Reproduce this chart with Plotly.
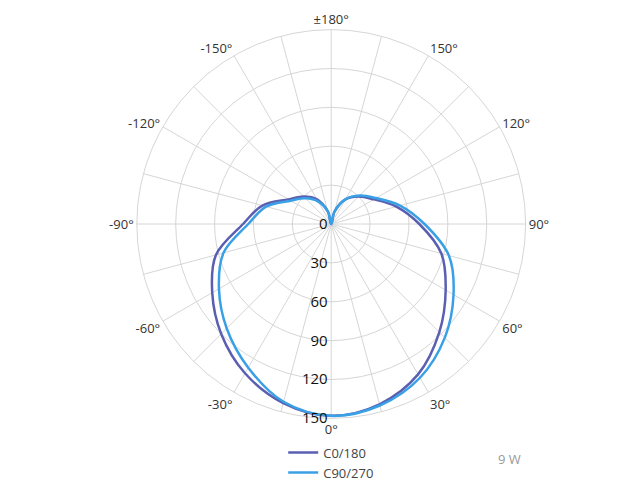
import plotly.graph_objects as go

angles = list(range(-180, 181, 15))
c0_180 = [0, 10, 22, 30, 38, 55, 68, 92, 106, 120, 133, 143, 148,
          144, 134, 118, 102, 88, 68, 52, 38, 30, 22, 10, 0]
c90_270 = [0, 10, 20, 28, 36, 52, 64, 86, 100, 114, 128, 142, 148,
           145, 137, 124, 109, 94, 72, 55, 40, 31, 22, 10, 0]
r_ticks = [0, 30, 60, 90, 120, 150]
ang_ticks = list(range(0, 360, 15))
def lab(a):
    if a % 30: return ""
    v = a if a <= 180 else a - 360
    return "±180°" if v == 180 else f"{v}°"
ang_text = [lab(a) for a in ang_ticks]

fig = go.Figure()
fig.add_trace(go.Scatterpolar(r=c0_180, theta=angles, mode="lines", name="C0/180",
                              line=dict(color="#5a5fb2", width=2.5, shape="spline")))
fig.add_trace(go.Scatterpolar(r=c90_270, theta=angles, mode="lines", name="C90/270",
                              line=dict(color="#3aa0e6", width=2.5, shape="spline")))
fig.update_layout(
    width=640, height=480, margin=dict(l=0, r=0, t=0, b=0),
    paper_bgcolor="white", font=dict(family="Open Sans", size=13, color="#333"),
    polar=dict(
        domain=dict(x=[0.2, 0.81], y=[0.145, 0.955]),
        bgcolor="white",
        angularaxis=dict(rotation=-90, direction="counterclockwise",
                         tickvals=ang_ticks, ticktext=ang_text, ticks="",
                         gridcolor="#d6d6d6", linecolor="#d6d6d6", showline=True),
        radialaxis=dict(range=[0, 150], tickvals=r_ticks, angle=-90, tickangle=-90,
                        showline=False, ticks="", gridcolor="#d6d6d6",
                        tickfont=dict(size=15, color="#111", family="Open Sans"))),
    legend=dict(x=0.43, y=0.105, xanchor="left", yanchor="top", bgcolor="rgba(0,0,0,0)",
                font=dict(size=13, color="#444"), tracegroupgap=0),
    annotations=[dict(text="9 W", x=0.805, y=0.037, xref="paper", yref="paper",
                      showarrow=False, font=dict(size=13, color="#999"))],
)
fig.write_html("out.html")
